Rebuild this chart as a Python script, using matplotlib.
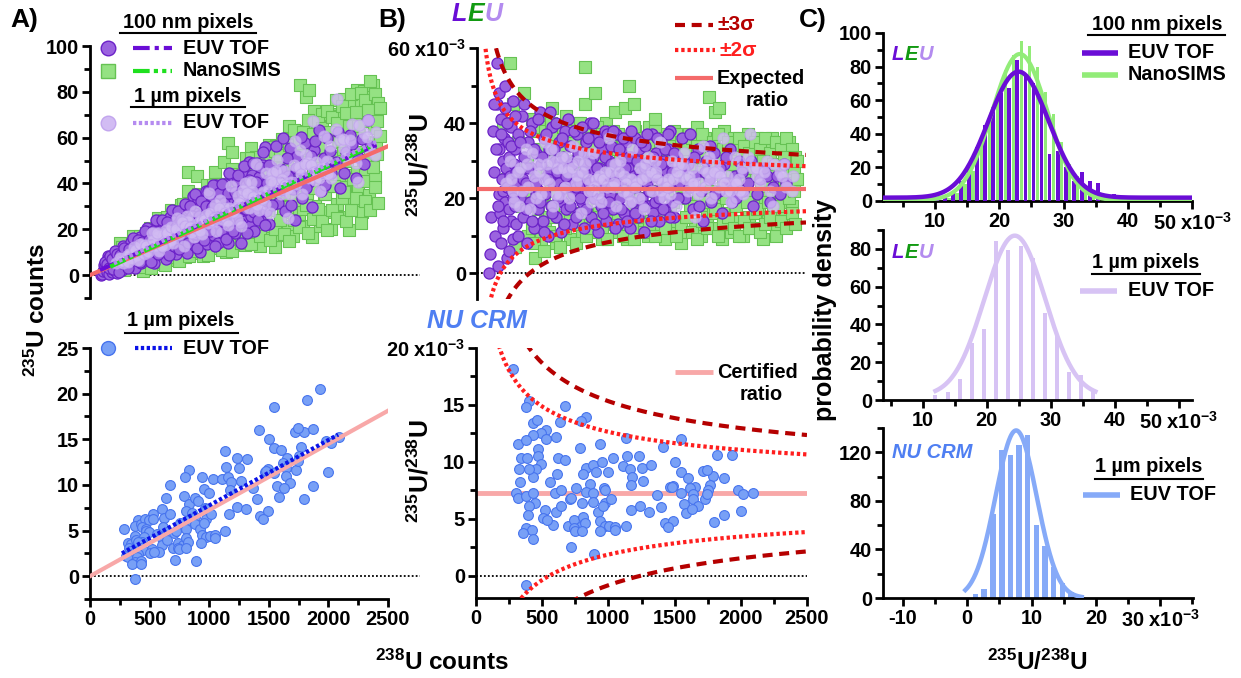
import numpy as np
import matplotlib
matplotlib.use('Agg')
import matplotlib.pyplot as plt
from matplotlib.ticker import MultipleLocator, FixedLocator, FixedFormatter

plt.rcParams['font.family'] = ['Liberation Sans', 'DejaVu Sans']
plt.rcParams['font.weight'] = 'bold'
plt.rcParams['mathtext.fontset'] = 'custom'
plt.rcParams['mathtext.rm'] = 'Liberation Sans:bold'
plt.rcParams['mathtext.bf'] = 'Liberation Sans:bold'
plt.rcParams['mathtext.it'] = 'Liberation Sans:bold:italic'
plt.rcParams['mathtext.default'] = 'bf'

# ---------------- DATA ----------------
expected_ratio_leu = 22.5      # x1e-3
certified_ratio_nu = 7.25      # x1e-3

# LEU, 100 nm pixels, NanoSIMS: (238U counts, 235U/238U x1e-3)
nanosims_pts = [
 (200,40),(230,25),(251,56),(270,45),(289,7),(310,35),(340,18),(360,48),(380,30),(390,10),(400,22),(420,12),(430,38),(441,4),(450,27),(460,17),
 (480,33),(490,9),(500,41),(510,20),(520,14),(530,28),(540,36),(550,11),(560,24),(560,22),(570,44),(580,18),(590,31),(600,8),(610,26),(620,39),(630,15),(640,22),(640,28),(650,34),(660,12),(670,29),(680,42),(690,19),(700,25),
 (710,9),(720,37),(730,16),(740,30),(750,21),(760,40),(760,25),(770,13),(780,27),(790,35),(800,10),(810,23),(820,45),(821,55),(830,18),(840,32),(850,28),(860,14),(870,38),(880,24),(890,11),(897,48),(900,33),(910,20),(920,27),(930,16),(940,36),(950,9),(960,30),(960,21),(970,22),(980,40),(990,13),(1000,26),
 (1010,34),(1020,19),(1030,29),(1040,17),(1049,43),(1060,11),(1070,37),(1080,23),(1090,31),(1100,15),(1110,26),(1125,44),(1130,35),(1140,9),(1150,24),(1155,50),(1160,21),(1170,30),(1180,17),(1193,45),(1200,38),(1210,25),(1220,12),(1230,33),(1240,20),(1250,28),(1260,36),(1270,14),(1280,24),(1290,31),(1300,10),(1310,39),(1320,18),(1330,27),(1340,34),(1350,26),(1353,41),(1360,22),(1370,13),(1380,29),(1390,37),(1400,16),(1410,25),(1420,32),(1430,9),(1440,21),(1440,29),(1450,35),(1460,27),(1470,12),(1480,30),(1490,19),(1500,38),
 (1510,24),(1520,14),(1530,33),(1540,28),(1550,8),(1550,22),(1560,36),(1570,20),(1580,26),(1590,31),(1600,11),(1610,37),(1620,17),(1630,23),(1640,34),(1650,29),(1660,13),(1670,39),(1680,21),(1690,27),(1700,10),(1710,32),(1720,18),(1730,36),(1740,25),(1750,15),(1750,20),(1763,47),(1770,30),(1780,22),(1790,12),(1800,35),(1810,43),(1820,19),(1830,28),(1840,44),(1840,21),(1850,33),(1860,9),(1870,24),(1880,38),(1890,16),(1900,29),(1910,21),(1920,34),(1930,11),(1940,26),(1950,36),(1950,24),(1960,18),(1970,31),(1980,14),(1990,27),(2000,23),
 (2010,35),(2020,10),(2030,30),(2040,19),(2050,25),(2060,37),(2070,15),(2080,28),(2090,21),(2100,33),(2110,12),(2120,26),(2130,36),(2140,18),(2150,30),(2150,26),(2160,23),(2170,9),(2180,34),(2190,20),(2200,28),(2210,14),(2220,31),(2230,24),(2240,36),(2240,20),(2250,17),(2260,27),(2270,33),(2280,12),(2290,22),(2300,35),(2310,19),(2320,29),(2330,25),(2340,15),(2350,32),(2350,23),(2360,21),(2370,35),(2380,27),(2390,18),(2400,24),
 (420,41),(470,39),(520,38),(560,40),(600,37),(650,39),(700,36),(740,38),(780,40),(830,36),(870,34),(910,39),(950,37),(990,35),(1030,38),(1070,33),(1110,36),(1150,34),(1190,39),(1230,36),(1270,34),(1310,35),(1350,38),(1390,33),(1430,36),(1470,34),(1510,37),(1550,35),(1590,33),(1630,36),(1670,34),(1710,37),(1750,33),(1790,35),(1830,37),(1870,33),(1910,35),(1950,33),(1990,36),(2030,34),(2070,32),(2110,35),(2150,33),(2190,36),(2230,32),(2270,35),(2310,33),(2350,36),(2390,33),(2420,31),
 (430,8),(470,13),(510,6),(550,15),(590,10),(630,7),(670,12),(710,14),(750,8),(790,16),(830,10),(870,12),(910,15),(950,11),(990,9),(1030,14),(1070,16),(1110,10),(1150,13),(1190,9),(1230,15),(1270,11),(1310,13),(1350,10),(1390,15),(1430,12),(1470,16),(1510,10),(1550,13),(1590,15),(1630,11),(1670,9),(1710,14),(1750,12),(1790,16),(1830,10),(1870,13),(1910,15),(1950,12),(1990,10),(2030,14),(2070,12),(2110,16),(2150,11),(2190,13),(2230,15),(2270,10),(2310,14),(2350,12),(2390,16),(2420,13),
 (1610,29),(1650,18),(1690,31),(1730,19),(1770,28),(1810,17),(1850,30),(1890,20),(1930,29),(1970,18),(2010,31),(2050,19),(2090,28),(2130,17),(2170,30),(2210,19),(2250,29),(2290,18),(2330,31),(2370,20),(2410,28),(2410,22),(2430,25),(2430,30)]

# LEU, 100 nm pixels, EUV TOF
euv100_pts = [
 (91,0),(100,5),(110,15),(120,38),(130,27),(140,10),(150,56),(152,45),(160,2),(165,21),(170,33),(175,16),(180,41),(185,8),(190,25),(195,30),(200,12),(200,22),(205,36),(210,19),(215,44),(220,28),(225,23),(230,4),(235,35),(240,17),(245,31),(250,26),(255,14),(260,39),(265,22),(270,9),(275,46),(280,29),(285,18),(290,33),(295,24),(300,13),
 (310,37),(320,27),(330,20),(340,42),(350,15),(350,25),(360,31),(370,24),(380,8),(390,35),(400,19),(410,28),(420,40),(430,12),(440,25),(450,32),(450,21),(460,17),(470,22),(480,43),(490,29),(500,14),(510,36),(520,21),(530,26),(540,10),(550,33),(550,27),(560,18),(570,39),(580,24),(590,30),(600,15),(610,27),(620,35),(620,24),(630,20),(640,11),(650,31),(650,19),(660,23),(670,38),(680,17),(690,28),(700,25),
 (710,34),(720,13),(730,21),(740,30),(750,26),(750,23),(760,37),(770,16),(780,24),(790,32),(800,19),(810,12),(820,29),(820,21),(830,35),(840,22),(850,27),(850,24),(860,40),(870,15),(880,31),(890,20),(900,25),(910,36),(920,11),(930,28),(940,18),(950,33),(950,20),(960,23),(970,38),(980,14),(990,26),(1000,30),(1010,21),(1020,34),(1020,23),(1030,17),(1040,27),(1050,24),(1050,26),(1060,37),(1070,13),(1080,29),(1090,20),(1100,32),
 (1110,25),(1120,16),(1130,35),(1140,22),(1150,28),(1150,22),(1160,12),(1170,31),(1180,19),(1190,26),(1200,36),(1210,23),(1220,15),(1230,33),(1240,27),(1250,20),(1250,24),(1260,29),(1270,11),(1280,34),(1290,24),(1300,18),(1310,30),(1320,26),(1330,37),(1340,16),(1350,22),(1350,19),(1360,32),(1370,28),(1380,14),(1390,25),(1400,35),(1410,21),(1420,30),(1430,17),(1440,27),(1450,33),(1450,25),(1460,23),(1470,38),(1480,19),(1490,28),(1500,15),
 (1520,31),(1540,24),(1560,36),(1580,20),(1600,29),(1620,37),(1640,17),(1660,26),(1680,33),(1700,22),(1720,14),(1740,30),(1760,25),(1780,19),(1800,32),(1820,27),(1840,22),(1860,16),(1880,29),(1900,24),(1920,33),(1940,19),(1960,26),(1990,30),(2020,22),(2060,24),(2100,18),(2150,25),(2200,26),(2250,23),(2300,21),(2350,24),
 (130,45),(145,33),(160,18),(170,48),(185,37),(195,14),(210,50),(225,40),(240,6),(255,34),(270,20),(285,42),(300,27),(315,10),(330,35),(345,22),(360,45),(375,17),(390,28),(405,38),(420,14),(435,33),(450,24),(465,41),(480,19),(495,31),(510,11),(525,37),(540,25),(555,43),(570,16),(585,33),(600,40),(615,20),(630,30),(645,36),(660,13),(675,26),(690,41),(705,18),(720,29),(735,38),(750,15),(765,32),(780,20),(795,39),(810,27),(825,17),(840,36),(855,30),(870,22),(885,40),(900,13),(915,28),(930,35),(945,24),(960,16),(975,31),(990,37),(1005,19),(1020,29),(1035,38),(1050,12),(1065,24),(1080,33),(1095,17),(1110,36),(1125,28),(1140,14),(1155,31),(1170,38),(1185,23),(1200,16),(1215,30),(1230,25),(1245,35),(1260,18),(1275,28),(1290,37),(1305,22),(1320,14),(1335,31),(1350,26),(1365,36),(1380,20),(1395,29),(1410,17),(1425,33),(1440,24),(1455,37),(1470,15),(1485,27),(1500,32),(1530,20),(1570,28),(1610,23),(1650,31),(1690,18),(1730,27),(1770,34),(1810,21),(1850,28),(1890,31),(1930,23),(1970,20),(2010,27),(2080,30),(2130,21),(2180,28),(2230,19),(2280,26),(2330,29)]

# LEU, 1 um pixels, EUV TOF
euv1um_pts = [
 (220,24),(250,30),(260,25),(280,19),(310,27),(330,28),(340,22),(370,33),(390,23),(400,17),(430,26),(450,20),(460,29),(490,21),(510,25),(520,35),(550,24),(570,30),(580,18),(610,28),(630,21),(640,31),(670,23),(690,27),(700,20),(730,34),(750,24),(760,26),(790,16),(810,32),(820,29),(850,22),(870,19),(880,32),(910,25),(930,26),(940,19),(970,27),(990,23),(1000,36),(1030,23),(1050,29),(1060,18),(1090,30),(1110,22),(1120,26),(1150,21),(1170,25),(1180,33),(1210,24),(1230,20),(1240,28),(1270,17),(1290,26),(1300,31),(1330,22),(1350,30),(1360,27),(1390,35),(1410,24),(1420,20),(1450,25),(1470,21),(1480,30),(1510,18),(1530,29),(1540,26),(1570,32),(1590,25),(1600,22),(1630,28),(1650,23),(1660,15),(1690,24),(1710,28),(1720,34),(1750,27),(1770,25),(1780,20),(1810,29),(1830,27),(1840,23),(1870,36),(1890,22),(1900,26),(1930,19),(1950,24),(1960,31),(1990,25),(2010,28),(2020,21),(2073,37),(2100,28),(2130,26),(2150,24),(2200,30),(2230,22),(2250,18),(2300,27),(2330,29),(2350,23),(2400,26),
 (270,22),(320,18),(380,29),(420,32),(470,27),(530,29),(560,33),(600,21),(650,28),(680,31),(720,28),(770,30),(800,27),(840,25),(890,23),(920,21),(960,25),(1010,27),(1040,24),(1080,27),(1130,24),(1160,19),(1200,23),(1250,25),(1280,29),(1320,27),(1370,25),(1400,22),(1440,23),(1490,25),(1520,27),(1560,29),(1610,26),(1640,24),(1680,21),(1730,23),(1760,31),(1800,27),(1850,26),(1880,24),(1920,22),(1970,24),(2000,22),(2060,31),(2120,28),(2180,27),(2260,29),(2320,26),(2390,22)]

# NU CRM, 1 um pixels, EUV TOF
nu_x = [283,404,374,669,833,795,429,460,636,530,492,525,434,606,316,374,788,939,1136,1414,
        1545,1818,1932,341,384,467,467,492,455,434,619,669,328,404,333,1035,1141,1230,1502,833,
        884,954,909,997,1111,1161,1250,1318,1545,1603,1654,1616,1717,1793,1742,1874,611,561,808,859,
        1182,1174,1263,1465,1490,1768,303,316,374,429,593,644,752,707,720,833,884,965,977,803,
        884,972,1018,1364,1477,1545,1641,1755,1982,2020,2091,442,404,391,518,606,644,922,960,1167,
        1237,1308,1401,1571,1641,1679,1586,1629,1730,1747,1798,1874,2000,505,581,535,694,737,783,808,
        821,939,972,1005,1048,934,1048,1131,737,750,803,374,424,354,429,1427,1490,1452,715,889,379]
nu_ratio = [18.2,15.35,14.8,14.9,13.9,13.6,13.4,13.7,13.5,12.8,12.5,12.0,12.4,12.2,11.6,11.9,11.2,11.6,12.1,11.3,
            12.0,10.6,10.6,10.3,10.3,11.1,10.5,9.8,9.4,8.7,10.3,10.2,9.4,9.4,8.2,10.3,10.5,10.5,10.0,9.5,
            9.7,10.0,9.1,9.1,9.6,9.4,9.5,9.7,9.1,8.6,7.8,7.7,9.2,8.8,9.3,8.6,8.9,8.2,8.9,8.1,
            8.7,8.0,8.3,7.8,7.9,8.0,7.3,6.8,7.0,7.3,7.3,7.5,7.7,6.7,6.8,7.4,7.3,7.7,7.5,6.4,
            6.5,6.4,6.7,7.1,7.8,7.3,7.2,7.5,7.5,7.2,7.3,6.4,6.1,5.3,5.8,5.6,6.1,5.6,6.1,5.8,
            6.1,5.6,6.0,6.3,6.7,6.1,5.5,5.9,6.7,7.2,4.7,5.3,5.7,5.1,4.5,4.9,4.4,4.9,4.3,5.2,
            4.6,4.8,4.4,4.4,4.3,3.9,4.0,4.4,4.2,3.9,3.9,4.2,4.0,3.8,3.2,4.6,4.8,4.3,2.5,1.9,-0.8]

# linear fits in panel A: (slope, intercept, x_start, x_end)
fit_euv100 = (0.0236, 0.2, 84, 2430)
fit_nanosims = (0.0240, -0.4, 170, 2350)
fit_euv1um = (0.0241, 0.3, 200, 2400)
fit_nu = (0.00717, 0.58, 268, 2082)

# histograms (ratio x1e-3 bins, probability density)
leu100_bins = [9.375,10.625,11.875,13.125,14.375,15.625,16.875,18.125,19.375,20.625,21.875,23.125,24.375,
               25.625,26.875,28.125,29.375,30.625,31.875,33.125,34.375,35.625,36.875,38.125,39.375]
leu100_euv_density = [1,1,3,6,12,20,32,45,56,64,67,84,75,70,58,28,30,20,12,17,12,11,2,4,1]
leu100_ns_density = [0,0,2,5,10,18,36,50,62,78,87,95,92,80,65,52,35,22,15,8,5,3,1,0,0]
leu1um_bins = [12.0,13.9,15.8,17.7,19.6,21.5,23.4,25.3,27.2,29.1,31.0,32.9,34.8,36.7]
leu1um_density = [2.5,4,11,30,37.5,84,79.5,81.5,75,46,35,15,13,6]
nu_bins = [1.25,2.6,4.0,5.4,6.7,8.05,9.4,10.75,12.1,13.4,14.8,16.1,17.5]
nu_density = [3.6,7.7,69.5,121.7,117.6,126,134.6,60.4,42.6,25.5,12.4,4.7,2.7]

# gaussian fits: (mean, sigma, amplitude, baseline, x_start, x_end)
gfit_euv100 = (23.0, 4.7, 75, 2.0, 1.9, 50)
gfit_ns = (23.2, 4.3, 87, 0.5, 1.9, 50)
gfit_euv1um = (24.4, 4.75, 85, 2.0, 12.0, 37.0)
gfit_nu = (7.6, 3.2, 138, 0.0, -0.3, 17.8)

# ---------------- STYLE ----------------
C_PURPLE = '#9B63DF'; C_PURPLE_E = '#6B22C8'
C_LIGHT = '#D2BCF3'; C_LIGHT_E = '#C2A5EE'
C_GREEN = '#95E283'; C_GREEN_E = '#66C253'
C_BLUE = '#78A0F6'; C_BLUE_E = '#4774EE'
C_FIT_PURPLE = '#6A0DD6'; C_FIT_GREEN = '#1FE01F'; C_FIT_LIGHT = '#B58BF0'; C_FIT_BLUE = '#0A12E8'
C_EXP = '#F46A6A'; C_CERT = '#F8A8A8'
C_3S = '#B50000'; C_2S = '#FF1E1E'
C_H_PURPLE = '#6A0DD6'; C_H_GREEN = '#92EC78'; C_H_LIGHT = '#D7C3F4'; C_H_BLUE = '#86AAF8'
C_L = '#6A0DD6'; C_E = '#129A12'; C_U = '#B38BEF'; C_NU = '#4F7FF2'

W, H = 1241, 678
fig = plt.figure(figsize=(W / 100, H / 100), dpi=100)
TICK_FS = 14.4


def add_ax(l, r, t, b):
    return fig.add_axes([l / W, 1 - b / H, (r - l) / W, (b - t) / H])


def style(ax, show_x=True):
    for s in ['top', 'right']:
        ax.spines[s].set_visible(False)
    for s in ['left', 'bottom']:
        ax.spines[s].set_linewidth(2.0)
    ax.tick_params(which='major', direction='out', length=6, width=2.0, labelsize=TICK_FS, pad=2)
    ax.tick_params(which='minor', direction='out', length=4, width=2.0)
    if not show_x:
        ax.spines['bottom'].set_visible(False)
        ax.tick_params(axis='x', which='both', bottom=False, labelbottom=False)
    ax.patch.set_visible(False)


def gauss(p, n=300):
    m, s, a, b, x0, x1 = p
    xs = np.linspace(x0, x1, n)
    return xs, b + a * np.exp(-(xs - m) ** 2 / (2 * s ** 2))


ns = np.array(nanosims_pts, float)
e100 = np.array(euv100_pts, float)
e1 = np.array(euv1um_pts, float)
nux = np.array(nu_x, float)
nur = np.array(nu_ratio, float)

MS = 64
LIGHT_ALPHA = 0.8
# ---------------- Panel A top ----------------
axA1 = add_ax(90, 388, 46, 298)
style(axA1, show_x=False)
axA1.set_xlim(0, 2500); axA1.set_ylim(-10, 100)
axA1.scatter(ns[:, 0], ns[:, 0] * ns[:, 1] / 1000, marker='s', s=MS, c=C_GREEN, edgecolors=C_GREEN_E, linewidths=0.8, zorder=2)
axA1.scatter(e100[:, 0], e100[:, 0] * e100[:, 1] / 1000, marker='o', s=MS, c=C_PURPLE, edgecolors=C_PURPLE_E, linewidths=0.9, zorder=3)
axA1.scatter(e1[:, 0], e1[:, 0] * e1[:, 1] / 1000, marker='o', s=MS, c=C_LIGHT, edgecolors=C_LIGHT_E, linewidths=0.8, alpha=LIGHT_ALPHA, zorder=4)
xl = np.array([0, 2500.0])
axA1.plot(xl, xl * expected_ratio_leu / 1000, color=C_EXP, lw=3, zorder=5)
for (sl, ic, x0, x1), col, ls in [(fit_euv100, C_FIT_PURPLE, (0, (4, 1.2, 1, 1.2))),
                                  (fit_nanosims, C_FIT_GREEN, (0, (4, 1, 1, 1, 1, 1))),
                                  (fit_euv1um, C_FIT_LIGHT, (0, (0.8, 0.6)))]:
    xf = np.array([x0, x1])
    axA1.plot(xf, sl * xf + ic, color=col, lw=3, ls=ls, zorder=6)
axA1.plot([0, 2770], [0, 0], ls=(0, (1, 1.2)), color='k', lw=1.3, clip_on=False, zorder=1)
axA1.yaxis.set_major_locator(MultipleLocator(20))
axA1.yaxis.set_minor_locator(MultipleLocator(10))

# ---------------- Panel A bottom ----------------
axA2 = add_ax(90, 388, 348, 599)
style(axA2)
axA2.set_xlim(0, 2500); axA2.set_ylim(-2.5, 25)
axA2.scatter(nux, nux * nur / 1000, marker='o', s=50, c=C_BLUE, edgecolors=C_BLUE_E, linewidths=0.8, zorder=3)
axA2.plot(xl, xl * certified_ratio_nu / 1000, color=C_CERT, lw=3, zorder=4)
sl, ic, x0, x1 = fit_nu
xf = np.array([x0, x1])
axA2.plot(xf, sl * xf + ic, color=C_FIT_BLUE, lw=3, ls=(0, (0.8, 0.6)), zorder=5)
axA2.plot([0, 2770], [0, 0], ls=(0, (1, 1.2)), color='k', lw=1.3, clip_on=False, zorder=1)
axA2.yaxis.set_major_locator(MultipleLocator(5))
axA2.yaxis.set_minor_locator(MultipleLocator(2.5))
axA2.xaxis.set_major_locator(MultipleLocator(500))
axA2.xaxis.set_minor_locator(MultipleLocator(250))

# ---------------- Panel B top ----------------
axB1 = add_ax(477, 806, 48, 299)
style(axB1, show_x=False)
axB1.set_xlim(0, 2500); axB1.set_ylim(-6.9, 60)
axB1.scatter(ns[:, 0], ns[:, 1], marker='s', s=MS, c=C_GREEN, edgecolors=C_GREEN_E, linewidths=0.8, zorder=2)
axB1.scatter(e100[:, 0], e100[:, 1], marker='o', s=MS, c=C_PURPLE, edgecolors=C_PURPLE_E, linewidths=0.9, zorder=3)
axB1.scatter(e1[:, 0], e1[:, 1], marker='o', s=MS, c=C_LIGHT, edgecolors=C_LIGHT_E, linewidths=0.8, alpha=LIGHT_ALPHA, zorder=4)
axB1.axhline(expected_ratio_leu, color=C_EXP, lw=3, zorder=5)
xs = np.linspace(20, 2500, 500)
sig = np.sqrt(expected_ratio_leu / 1000 / xs) * 1000
for k, col, ls in [(3, C_3S, (0, (2.4, 1.6))), (2, C_2S, (0, (0.8, 0.7)))]:
    axB1.plot(xs, expected_ratio_leu + k * sig, color=col, lw=3, ls=ls, zorder=6)
    axB1.plot(xs, expected_ratio_leu - k * sig, color=col, lw=3, ls=ls, zorder=6)
axB1.plot([0, 2500], [0, 0], ls=(0, (1, 1.2)), color='k', lw=1.3, zorder=1)
axB1.yaxis.set_major_locator(FixedLocator([0, 20, 40, 60]))
axB1.yaxis.set_major_formatter(FixedFormatter(['0', '20', '40', '60 x10$^{-3}$']))
axB1.yaxis.set_minor_locator(MultipleLocator(10))

# ---------------- Panel B bottom ----------------
axB2 = add_ax(476, 807, 348, 598)
style(axB2)
axB2.set_xlim(0, 2500); axB2.set_ylim(-1.95, 20)
axB2.scatter(nux, nur, marker='o', s=50, c=C_BLUE, edgecolors=C_BLUE_E, linewidths=0.8, zorder=3)
axB2.axhline(certified_ratio_nu, color=C_CERT, lw=3.5, zorder=2)
sig = np.sqrt(certified_ratio_nu / 1000 / xs) * 1000
for k, col, ls in [(3, C_3S, (0, (2.4, 1.6))), (2, C_2S, (0, (0.8, 0.7)))]:
    axB2.plot(xs, certified_ratio_nu + k * sig, color=col, lw=3, ls=ls, zorder=6)
    axB2.plot(xs, certified_ratio_nu - k * sig, color=col, lw=3, ls=ls, zorder=6)
axB2.plot([0, 2500], [0, 0], ls=(0, (1, 1.2)), color='k', lw=1.3, zorder=1)
axB2.yaxis.set_major_locator(FixedLocator([0, 5, 10, 15, 20]))
axB2.yaxis.set_major_formatter(FixedFormatter(['0', '5', '10', '15', '20 x10$^{-3}$']))
axB2.yaxis.set_minor_locator(MultipleLocator(2.5))
axB2.xaxis.set_major_locator(MultipleLocator(500))
axB2.xaxis.set_minor_locator(MultipleLocator(250))

# ---------------- Panel C top ----------------
axC1 = add_ax(883, 1192, 33, 201)
style(axC1)
axC1.set_xlim(1.9, 50); axC1.set_ylim(0, 100)
b = np.array(leu100_bins)
axC1.bar(b + 0.3, leu100_ns_density, width=0.5, color=C_H_GREEN, zorder=2)
axC1.bar(b - 0.3, leu100_euv_density, width=0.6, color=C_H_PURPLE, zorder=3)
gx, gy = gauss(gfit_ns); axC1.plot(gx, gy, color=C_H_GREEN, lw=3, zorder=4)
gx, gy = gauss(gfit_euv100); axC1.plot(gx, gy, color=C_H_PURPLE, lw=3.2, zorder=5)
axC1.yaxis.set_major_locator(MultipleLocator(20)); axC1.yaxis.set_minor_locator(MultipleLocator(10))
axC1.xaxis.set_major_locator(FixedLocator([10, 20, 30, 40, 50]))
axC1.xaxis.set_major_formatter(FixedFormatter(['10', '20', '30', '40', '50 x10$^{-3}$']))
axC1.xaxis.set_minor_locator(MultipleLocator(5))

# ---------------- Panel C middle ----------------
axC2 = add_ax(883, 1192, 230, 400)
style(axC2)
axC2.set_xlim(3.8, 52.1); axC2.set_ylim(0, 90)
axC2.bar(leu1um_bins, leu1um_density, width=0.62, color=C_H_LIGHT, zorder=2)
gx, gy = gauss(gfit_euv1um); axC2.plot(gx, gy, color=C_H_LIGHT, lw=3.2, zorder=3)
axC2.yaxis.set_major_locator(MultipleLocator(20)); axC2.yaxis.set_minor_locator(MultipleLocator(10))
axC2.xaxis.set_major_locator(FixedLocator([10, 20, 30, 40, 50]))
axC2.xaxis.set_major_formatter(FixedFormatter(['10', '20', '30', '40', '50 x10$^{-3}$']))
axC2.xaxis.set_minor_locator(MultipleLocator(5))

# ---------------- Panel C bottom ----------------
axC3 = add_ax(883, 1193, 428, 598)
style(axC3)
axC3.set_xlim(-13.1, 35.1); axC3.set_ylim(0, 140)
axC3.bar(nu_bins, nu_density, width=0.85, color=C_H_BLUE, zorder=2)
gx, gy = gauss(gfit_nu); axC3.plot(gx, gy, color=C_H_BLUE, lw=3.2, zorder=3)
axC3.yaxis.set_major_locator(MultipleLocator(40)); axC3.yaxis.set_minor_locator(MultipleLocator(20))
axC3.xaxis.set_major_locator(FixedLocator([-10, 0, 10, 20, 30]))
axC3.xaxis.set_major_formatter(FixedFormatter(['-10', '0', '10', '20', '30 x10$^{-3}$']))
axC3.xaxis.set_minor_locator(MultipleLocator(5))

# ---------------- overlay (text, legends) ----------------
ov = fig.add_axes([0, 0, 1, 1])
ov.set_xlim(0, W); ov.set_ylim(H, 0); ov.axis('off'); ov.patch.set_visible(False)
ov.set_zorder(20)

LFS = 14.3


def txt(x, y, s, fs=LFS, ha='left', color='k', **kw):
    ov.text(x, y, s, fontsize=fs, ha=ha, va='center', color=color, fontweight='bold', **kw)


def header(xc, y, s, x0, x1, yline):
    txt(xc, y, s, ha='center')
    ov.plot([x0, x1], [yline, yline], color='k', lw=1.5)


def seg(x0, x1, y, col, ls='-', lw=3):
    ov.plot([x0, x1], [y, y], color=col, ls=ls, lw=lw, solid_capstyle='butt', dash_capstyle='butt')


# panel labels
txt(10, 20, 'A)', fs=19)
txt(378, 20, 'B)', fs=19)
txt(799, 20, 'C)', fs=19)

# A top legend
header(188, 22, '100 nm pixels', 120, 256, 33)
ov.plot([108], [48], 'o', ms=10.5, mfc=C_PURPLE, mec=C_PURPLE_E, mew=1)
seg(133, 172, 48, C_FIT_PURPLE, ls=(0, (4, 1.2, 1, 1.2)))
txt(183, 48, 'EUV TOF')
ov.plot([108], [71], 's', ms=10, mfc=C_GREEN, mec=C_GREEN_E, mew=1)
seg(133, 172, 71, C_FIT_GREEN, ls=(0, (4, 1, 1, 1, 1, 1)))
txt(183, 71, 'NanoSIMS')
header(188, 96, '1 µm pixels', 131, 245, 107)
ov.plot([108], [123], 'o', ms=10.5, mfc=C_LIGHT, mec=C_LIGHT_E, mew=1)
seg(133, 172, 123, C_FIT_LIGHT, ls=(0, (0.8, 0.6)))
txt(183, 123, 'EUV TOF')

# A bottom legend
header(181, 321, '1 µm pixels', 125, 238, 333)
ov.plot([108], [348], 'o', ms=10, mfc=C_BLUE, mec=C_BLUE_E, mew=1)
seg(135, 172, 348, C_FIT_BLUE, ls=(0, (0.8, 0.6)))
txt(183, 348, 'EUV TOF')

# B top legend
seg(675, 713, 25, C_3S, ls=(0, (2.4, 1.6)))
txt(717, 25, '±3σ', fs=15, color=C_3S)
seg(675, 715, 50, C_2S, ls=(0, (0.8, 0.7)))
txt(719, 50, '±2σ', fs=15, color=C_2S)
seg(675, 713, 78, C_EXP)
txt(717, 78, 'Expected')
txt(767, 101, 'ratio', ha='center')

# B bottom legend
seg(675, 713, 372, C_CERT, lw=3.5)
txt(717, 372, 'Certified')
txt(761, 395, 'ratio', ha='center')


# sample names
def leu(x, y, fs):
    em = fs * 100 / 72
    ov.text(x, y, 'L', fontsize=fs, color=C_L, fontweight='bold', fontstyle='italic', va='center')
    ov.text(x + 0.64 * em, y, 'E', fontsize=fs, color=C_E, fontweight='bold', fontstyle='italic', va='center')
    ov.text(x + 1.32 * em, y, 'U', fontsize=fs, color=C_U, fontweight='bold', fontstyle='italic', va='center')


leu(452, 14, 18)
leu(892, 55, 14.5)
leu(892, 253, 14.5)
ov.text(427, 321, 'NU CRM', fontsize=18, color=C_NU, fontweight='bold', fontstyle='italic', va='center')
ov.text(892, 452, 'NU CRM', fontsize=14.5, color=C_NU, fontweight='bold', fontstyle='italic', va='center')

# C legends
header(1157, 25, '100 nm pixels', 1088, 1225, 35)
seg(1082, 1118, 53, C_H_PURPLE, lw=4)
txt(1128, 53, 'EUV TOF')
seg(1082, 1118, 75, C_H_GREEN, lw=4)
txt(1128, 75, 'NanoSIMS')
header(1146, 263, '1 µm pixels', 1092, 1200, 274)
seg(1080, 1117, 291, C_H_LIGHT, lw=4)
txt(1128, 291, 'EUV TOF')
header(1149, 467, '1 µm pixels', 1095, 1203, 479)
seg(1083, 1120, 495, C_H_BLUE, lw=4)
txt(1130, 495, 'EUV TOF')

# axis labels
ov.text(37, 310, '$^{235}$U counts', fontsize=17.5, rotation=90, ha='center', va='center')
ov.text(420, 165, '$^{235}$U/$^{238}$U', fontsize=18, rotation=90, ha='center', va='center')
ov.text(420, 471, '$^{235}$U/$^{238}$U', fontsize=18, rotation=90, ha='center', va='center')
ov.text(442, 662, '$^{238}$U counts', fontsize=17.5, ha='center', va='center')
ov.text(1037, 662, '$^{235}$U/$^{238}$U', fontsize=17.5, ha='center', va='center')
ov.text(825, 310, 'probability density', fontsize=18, rotation=90, ha='center', va='center', fontweight='bold')

fig.savefig('out.png', dpi=100)
